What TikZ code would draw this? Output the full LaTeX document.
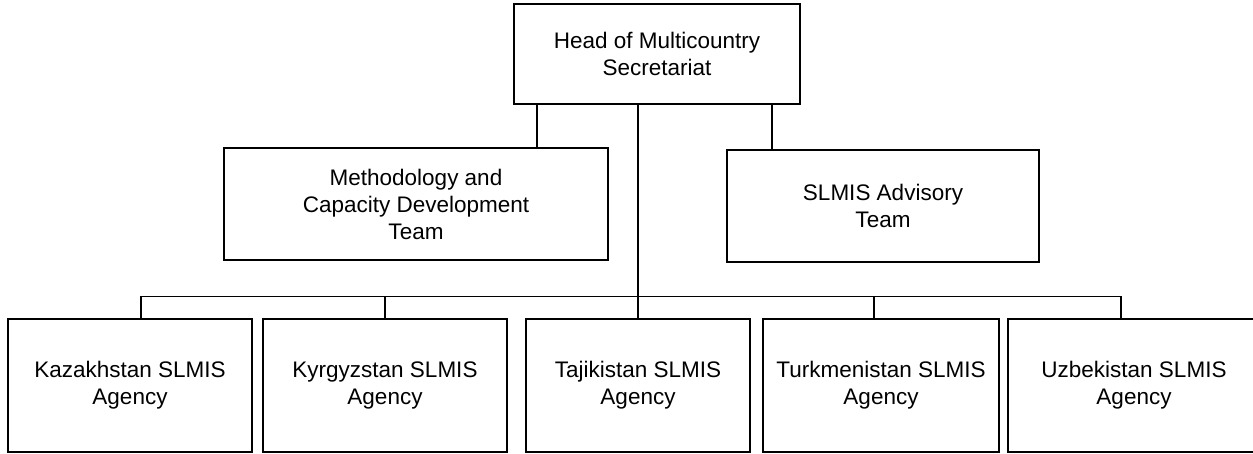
\documentclass[tikz,border=0pt]{standalone}
\usepackage{fontspec}
\setmainfont{Liberation Sans}
\usetikzlibrary{positioning}

\begin{document}
\begin{tikzpicture}[x=1pt, y=-1pt, line width=1.4pt,
		unit/.style = {draw=black, align=center, inner sep=1pt, font=\fontsize{22.5}{27}\selectfont},
		office/.style = {unit, minimum height=133pt}]
	\useasboundingbox (0,0) rectangle (1253,453);
	% top and middle level
	\node [unit, minimum width=286pt, minimum height=100pt] (head) at (657,54) {Head of Multicountry\\Secretariat};
	\node [unit, minimum width=384pt, minimum height=112pt] (method) at (416,204) {Methodology and\\Capacity Development\\Team};
	\node [unit, minimum width=312pt, minimum height=112pt] (advisory) at (883,206) {SLMIS Advisory\\Team};
	% country agencies
	\node [office, minimum width=244pt] (kaz) at (130,385.5) {Kazakhstan SLMIS\\Agency};
	\node [office, minimum width=244pt] (kyr) at (385,385.5) {Kyrgyzstan SLMIS\\Agency};
	\node [office, minimum width=224pt] (taj) at (638,385.5) {Tajikistan SLMIS\\Agency};
	\node [office, minimum width=236pt] (tur) at (881,385.5) {Turkmenistan SLMIS\\Agency};
	\node [office, minimum width=252pt] (uzb) at (1134,385.5) {Uzbekistan SLMIS\\Agency};

	\draw ([xshift=-120pt]head.south) coordinate (h1) -- (h1 |- method.north);
	\draw ([xshift=115pt]head.south) coordinate (h2) -- (h2 |- advisory.north);
	\draw ([xshift=-19pt]head.south) -- ++(0,192) coordinate (bus);
	\draw ([xshift=11pt]kaz.north) |- ([xshift=-13pt]uzb.north |- bus) -- ([xshift=-13pt]uzb.north);
	\draw (kyr.north) -- (kyr.north |- bus);
	\draw (taj.north) -- (taj.north |- bus);
	\draw ([xshift=-7pt]tur.north) coordinate (t1) -- (t1 |- bus);
\end{tikzpicture}
\end{document}
